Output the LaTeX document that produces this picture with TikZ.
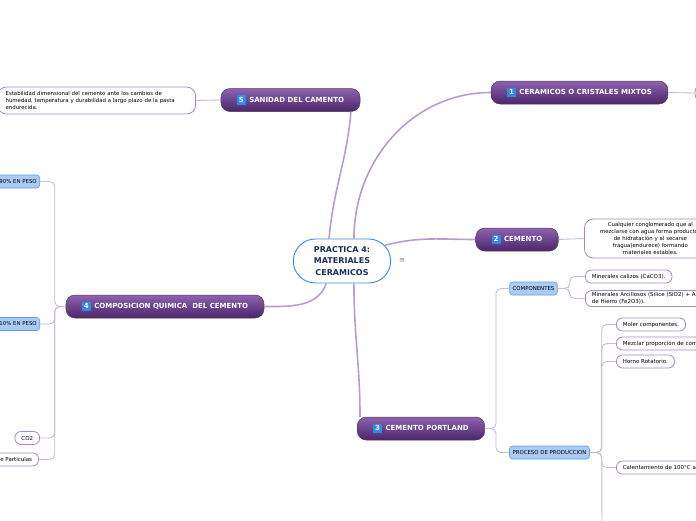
\documentclass[tikz,border=0pt]{standalone}
\usepackage{fontspec}
\setmainfont{DejaVu Sans}
\usetikzlibrary{positioning, shapes.misc}

\definecolor{topictop}{HTML}{8E62B0}
\definecolor{topicbot}{HTML}{4B2569}
\definecolor{topicedge}{HTML}{4A3F52}
\definecolor{branchc}{HTML}{B89DCC}
\definecolor{twigc}{HTML}{CDB9DC}
\definecolor{noteedge}{HTML}{A88AC0}
\definecolor{badgec}{HTML}{2C8CE6}
\definecolor{leaffill}{HTML}{A9CCF6}
\definecolor{leafedge}{HTML}{639DE0}
\definecolor{rootedge}{HTML}{3D8FD2}
\definecolor{roottext}{HTML}{1B2D5C}

\newcommand{\numtag}[1]{{\setlength{\fboxsep}{1.3pt}\colorbox{badgec}{\rule[-1.2pt]{0pt}{6.8pt}\makebox[6.2pt]{\textcolor{white}{#1}}}}\hspace{3.5pt}}

\begin{document}
\begin{tikzpicture}[
  x=1pt, y=-1pt,
  font=\fontsize{6.5}{8}\selectfont,
  root/.style={rounded rectangle, draw=rootedge, line width=0.9pt, fill=white,
               minimum width=104pt, minimum height=44pt, align=center, text=roottext,
               font=\fontsize{8}{11.5}\selectfont\bfseries},
  topic/.style={draw=topicedge, line width=0.5pt, rounded corners=9pt,
                top color=topictop, bottom color=topicbot, text=white,
                font=\fontsize{7}{8.5}\selectfont\bfseries, minimum height=23pt, inner xsep=16pt},
  note/.style={draw=noteedge, line width=0.8pt, rounded corners=9pt, fill=white,
               font=\fontsize{5.4}{7.2}\selectfont, inner ysep=3pt},
  leaf/.style={draw=noteedge, line width=0.8pt, rounded corners=6pt, fill=white,
               font=\fontsize{5.5}{7}\selectfont, minimum height=13pt, inner xsep=6.5pt, inner ysep=2pt},
  group/.style={draw=leafedge, line width=0.6pt, rounded corners=3pt, fill=leaffill,
                font=\fontsize{5.4}{7}\selectfont, minimum height=13pt, inner xsep=3pt},
  branch/.style={draw=branchc, line width=1.6pt},
  twig/.style={draw=twigc, line width=0.9pt, rounded corners=5pt},
]
\useasboundingbox (0,0) rectangle (696,520);
\clip (0,0) rectangle (696,520);
\fill[white] (0,0) rectangle (696,520);

% --- central topic ---
\node[root] (ctr) at (342,261) {PRACTICA 4:\\MATERIALES\\CERAMICOS};
\node[text=gray, font=\fontsize{7}{7}\selectfont] (menu) at (402,261) {≡};

% --- main topics ---
\node[topic] (n5) at (290.5,100) {\numtag{5}SANIDAD DEL CAMENTO};
\node[topic] (n1) at (579.5,92.5) {\numtag{1}CERAMICOS O CRISTALES MIXTOS};
\node[topic] (n2) at (517,239.5) {\numtag{2}CEMENTO};
\node[topic] (n3) at (421,428.5) {\numtag{3}CEMENTO PORTLAND};
\node[topic] (n4) at (165,306.5) {\numtag{4}COMPOSICION QUIMICA\ \ DEL CEMENTO};

\draw[branch] (ctr.120) to[out=85,in=-95] (n5.-11);
\draw[branch] (ctr.62) to[out=90,in=180] (n1.west);
\draw[branch] (ctr.20) to[out=15,in=180] (n2.west);
\draw[branch] (ctr.-62) to[out=-90,in=90] ([xshift=3pt]n3.north west);
\draw[branch] (ctr.-125) to[out=-110,in=0] (n4.east);

% --- notes ---
\node[note, anchor=east, text width=182pt, inner xsep=8pt, align=left, minimum height=27pt]
  (d5) at (196,100.5) {Estabilidad dimensional del cemento ante los cambios de\\humedad, temperatura y durabilidad a largo plazo de la pasta\\endurecida.};
\node[note, anchor=west, minimum width=40pt, minimum height=19pt] (d1) at (694.5,93) {};
\node[note, anchor=west, text width=122pt, inner xsep=5pt, align=center, minimum height=39pt]
  (d2) at (584,238.5) {Cualquier conglomerado que al\\mezclarse con agua forma productos\\de hidratación y al secarse\\fragua(endurece) formando\\materiales estables.};
\draw[twig] (n5.west) -- (d5.east);
\draw[twig] (n1.east) -- (d1.west);
\draw[twig] (n2.east) -- (d2.west);

% --- cemento portland ---
\node[group] (comp) at (533.5,288.5) {COMPONENTES};
\node[group] (proc) at (549.5,452.5) {PROCESO DE PRODUCCION};
\draw[twig] (n3.east) -- ++(11,0) |- (comp.west);
\draw[twig] (n3.east) -- ++(11,0) |- (proc.west);

\node[leaf, anchor=west] (cal) at (585,276.5) {Minerales calizos (CaCO3).};
\node[leaf, anchor=west, text width=200pt, align=left] (arc) at (585,298.5)
  {Minerales Arcillosos (Silice (SiO2) + Alumina (Al2O3) + Oxido\\de Hierro (Fe2O3)).};
\draw[twig] (comp.east) -- ++(12,0) |- (cal.west);
\draw[twig] (comp.east) -- ++(12,0) |- (arc.west);

\node[leaf, anchor=west] (mol) at (616,324.5) {Moler componentes.};
\node[leaf, anchor=west] (mez) at (616,343.5) {Mezclar proporción de componentes.};
\node[leaf, anchor=west] (hor) at (616,361.5) {Horno Rotatorio.};
\node[leaf, anchor=west] (heat) at (616,467.5) {Calentamiento de 100°C a 1450°C.};
\coordinate (more) at (602,535);
\foreach \c in {mol, mez, hor, heat}
  \draw[twig] (proc.east) -- ++(12,0) |- (\c.west);
\draw[twig] (proc.east) -- ++(12,0) -- (more);

% --- composicion quimica ---
\node[group, anchor=east] (p90) at (40,181.5) {90\% EN PESO};
\node[group, anchor=east] (p10) at (40,324) {10\% EN PESO};
\node[leaf, anchor=east] (co2) at (40,438) {CO2};
\node[leaf, anchor=east] (part) at (39,459.5) {Tamaño de Particulas};
\foreach \c in {p90, p10, co2, part}
  \draw[twig] (n4.west) -- ++(-11,0) |- (\c.east);
\end{tikzpicture}
\end{document}
